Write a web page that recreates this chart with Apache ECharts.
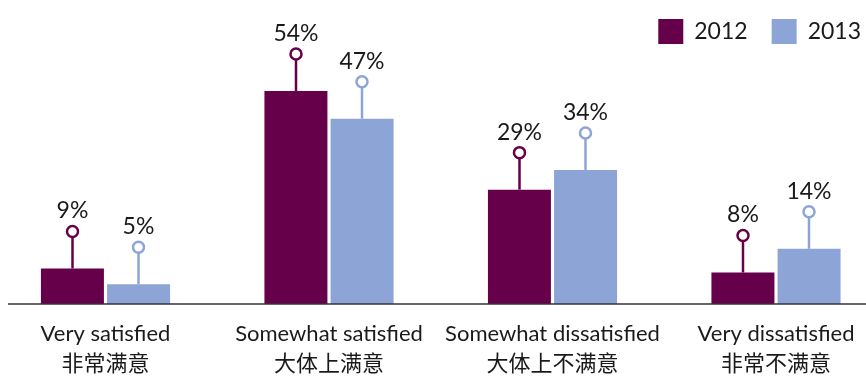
<!DOCTYPE html>
<html><head><meta charset="utf-8">
<script src="https://cdn.jsdelivr.net/npm/echarts@6/dist/echarts.min.js"></script>
<style>html,body{margin:0;padding:0;background:#fff}#c{width:866px;height:376px}</style>
</head><body><div id="c"></div>
<script>
const categories = ['Very satisfied\n非常满意', 'Somewhat satisfied\n大体上满意', 'Somewhat dissatisfied\n大体上不满意', 'Very dissatisfied\n非常不满意'];
const years = ['2012', '2013'];
const values2012 = [9, 54, 29, 8];
const values2013 = [5, 47, 34, 14];

const colors = ['#67004a', '#8ca5d6'];
const FONT = 'Lato, "Noto Sans CJK SC", sans-serif';
const BAR_W = 63, OFFSET = 33, STEM = 37;

function pinSeries(name, vals, color, dx) {
  return {
    type: 'custom', name: name + '_pin', clip: false, z: 5,
    data: vals.map((v, i) => [i, v]),
    renderItem: function (params, api) {
      const p = api.coord([api.value(0), api.value(1)]);
      const x = p[0] + dx, y0 = p[1], y1 = p[1] - STEM;
      return {
        type: 'group', children: [
          { type: 'line', shape: { x1: x, y1: y0, x2: x, y2: y1 + 5.5 }, style: { stroke: color, lineWidth: 2.5 } },
          { type: 'circle', shape: { cx: x, cy: y1, r: 5.5 }, style: { fill: '#fff', stroke: color, lineWidth: 2.5 } },
          { type: 'text', x: x, y: y1 - 9, style: { text: api.value(1) + '%', fill: '#1a1a1a', font: '23px ' + FONT, textAlign: 'center', textVerticalAlign: 'bottom' } }
        ]
      };
    }
  };
}

const chart = echarts.init(document.getElementById('c'), null, { renderer: 'canvas' });
chart.setOption({
  animation: false,
  color: colors,
  legend: {
    data: years, right: 0, top: 14, itemWidth: 25, itemHeight: 25, itemGap: 24,
    icon: 'rect',
    textStyle: { fontFamily: FONT, fontSize: 23, color: '#1a1a1a', padding: [0, 0, 0, 6] }
  },
  grid: { left: -6.25, width: 894, top: 67.4, bottom: 72, outerBoundsMode: 'none', containLabel: false },
  xAxis: {
    type: 'category', data: categories,
    axisLine: { show: false }, axisTick: { show: false },
    axisLabel: { fontFamily: FONT, fontSize: 22, color: '#1a1a1a', lineHeight: 30, margin: 15, interval: 0 }
  },
  yAxis: { type: 'value', min: 0, max: 60, show: false },
  graphic: [{ type: 'line', shape: { x1: 8, y1: 304, x2: 866, y2: 304 }, style: { stroke: '#333', lineWidth: 1.5 }, z: 10 }],
  series: [
    { type: 'bar', name: years[0], data: values2012, barWidth: BAR_W, barGap: '5%', itemStyle: { color: colors[0] } },
    { type: 'bar', name: years[1], data: values2013, barWidth: BAR_W, barGap: '5%', itemStyle: { color: colors[1] } },
    pinSeries(years[0], values2012, colors[0], -OFFSET),
    pinSeries(years[1], values2013, colors[1], OFFSET)
  ]
});
</script></body></html>
